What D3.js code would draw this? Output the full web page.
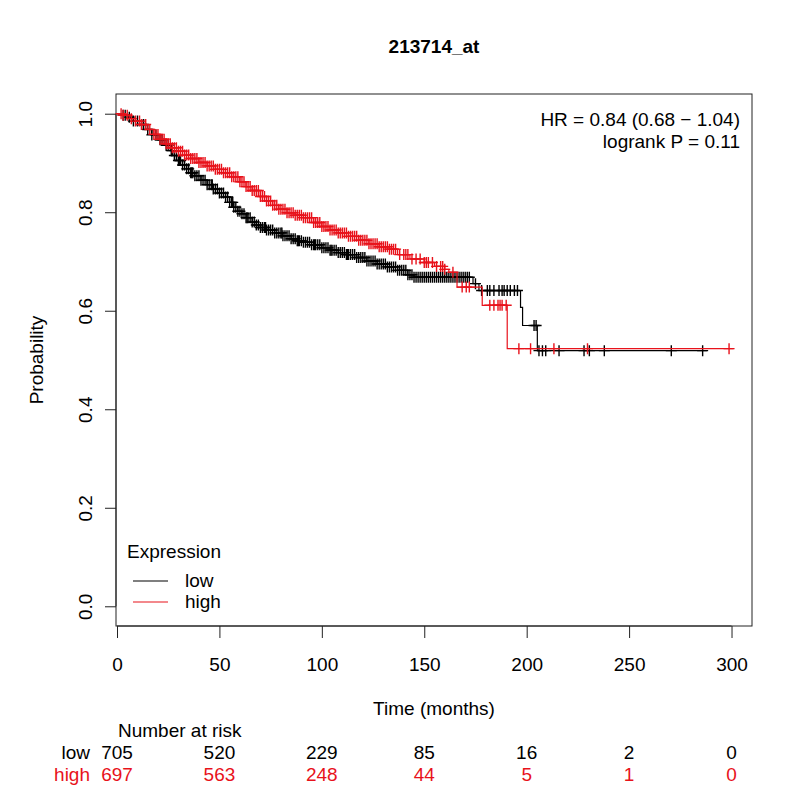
<!DOCTYPE html>
<html>
<head>
<meta charset="utf-8">
<script src="https://cdn.jsdelivr.net/npm/d3@7"></script>
<style>
  body { margin: 0; background: #fff; }
  text { font-family: "Liberation Sans", Arial, sans-serif; }
</style>
</head>
<body>
<div id="chart"></div>
<script>
// Kaplan-Meier steps: [time (months), survival]
const lowSteps = [
  [0, 1.0], [2, 0.997], [5, 0.993], [8, 0.985], [11, 0.978], [14, 0.968], [17, 0.957],
  [20, 0.947], [23, 0.936], [26, 0.925], [28, 0.915], [30, 0.905], [32, 0.896], [34, 0.888],
  [36, 0.880], [38, 0.874], [41, 0.865], [44, 0.856], [47, 0.847], [50, 0.839], [53, 0.831],
  [55, 0.820], [57, 0.810], [59, 0.802], [61, 0.797], [63, 0.789], [66, 0.780], [68, 0.774],
  [70, 0.769], [73, 0.764], [77, 0.758], [81, 0.752], [85, 0.746], [88, 0.742], [91, 0.739],
  [95, 0.734], [100, 0.728], [104, 0.723], [108, 0.718], [112, 0.714], [117, 0.708],
  [122, 0.701], [127, 0.695], [132, 0.689], [137, 0.682], [142, 0.673], [145, 0.668],
  [173.8, 0.655], [176.7, 0.641], [197, 0.607], [198, 0.570], [205.2, 0.519]
];
const lowEnd = 288;
const lowCensor = [
  3, 4, 6, 8, 10, 12, 13, 15, 17, 19, 21, 22, 24, 25, 26.5, 27, 28, 29, 30, 30.5, 31, 32,
  33, 34, 35, 36, 36.5, 37, 38, 39, 40, 41, 42, 43, 44, 45, 46, 46.5, 47, 48, 49, 50, 51,
  52, 53, 54, 55, 56, 56.5, 57, 58, 59, 60, 61, 62, 63, 63.5, 64, 65, 66, 67, 68, 69, 70,
  71, 72, 72.5, 73, 74, 75, 76, 77, 78, 79, 80, 80.5, 81, 82, 83, 84, 85, 86, 87, 88, 88.5,
  89, 90, 91, 92, 93, 94, 95, 96, 96.5, 97, 98, 99, 100, 101, 102, 103, 104, 104.5, 105,
  106, 107, 108, 109, 110, 111, 112, 112.5, 113, 114, 115, 116, 117, 118, 119, 120, 121,
  122, 123, 124, 125, 126, 127, 128, 129, 130, 131, 132, 133, 134, 135, 136, 137, 138,
  139, 140, 141, 142, 143, 144, 145, 146, 147, 148, 149, 150, 151, 152, 153, 154, 155,
  156, 157, 158, 159, 160, 161, 162, 163, 164, 165, 166, 167, 168, 169, 170, 171, 172,
  175, 178, 180.8, 182, 184, 186.5, 188, 189, 190.5, 192, 194, 195.5, 203.6, 204.6, 206,
  207.7, 209.3, 215.8, 228, 230.6, 237.9, 270.6, 285.9
];

const highSteps = [
  [0, 1.0], [3, 0.997], [6, 0.990], [9, 0.985], [12, 0.978], [15, 0.968], [18, 0.958],
  [21, 0.948], [24, 0.939], [27, 0.931], [30, 0.924], [33, 0.916], [36, 0.909], [40, 0.901],
  [44, 0.894], [48, 0.887], [52, 0.880], [56, 0.872], [60, 0.862], [63, 0.852], [66, 0.844],
  [70, 0.832], [73, 0.823], [76, 0.814], [79, 0.806], [83, 0.799], [87, 0.794], [91, 0.789],
  [96, 0.779], [100, 0.771], [104, 0.764], [108, 0.758], [113, 0.751], [118, 0.743],
  [123, 0.736], [128, 0.730], [133, 0.725], [137, 0.714], [143, 0.705], [150, 0.698],
  [155, 0.690], [160, 0.684], [162, 0.678], [166, 0.648], [178.3, 0.611], [190.5, 0.523]
];
const highEnd = 301;
const highCensor = [
  2, 3, 5, 7, 9, 11, 12, 14, 16, 18, 19, 20, 21, 22, 23, 24, 25, 26, 27, 28, 29, 30, 31,
  32, 33, 34, 35, 36, 37, 38, 39, 40, 41, 42, 43, 44, 45, 46, 47, 48, 49, 50, 51, 52, 53,
  54, 55, 56, 57, 58, 59, 60, 61, 62, 63, 64, 65, 66, 67, 68, 69, 70, 71, 72, 73, 74, 75,
  76, 77, 78, 79, 80, 81, 82, 83, 84, 85, 86, 87, 88, 89, 90, 91, 92, 93, 94, 95, 96, 97,
  98, 99, 100, 101, 102, 103, 104, 105, 106, 107, 108, 109, 110, 111, 112, 113, 114, 115,
  116, 117, 118, 119, 120, 121, 122, 123, 124, 125, 126, 127, 128, 129, 130, 131, 132,
  133, 134, 135, 136, 138, 140, 141, 142, 144, 146, 148, 150, 151, 152, 154, 156, 158,
  159, 160, 164, 168.5, 170.5, 172, 182, 184, 186, 187, 188, 190, 196.2, 201.9, 213.3,
  229.7, 298.8
];

const xTicks = [0, 50, 100, 150, 200, 250, 300];
const yTicks = [0.0, 0.2, 0.4, 0.6, 0.8, 1.0];
const riskLow = [705, 520, 229, 85, 16, 2, 0];
const riskHigh = [697, 563, 248, 44, 5, 1, 0];

const W = 800, H = 800;
const box = {left: 116, right: 752, top: 94, bottom: 626};
const fs = 19;

const x = d3.scaleLinear().domain([0, 310]).range([117, 752]);
const y = d3.scaleLinear().domain([-0.04, 1.04]).range([box.bottom, box.top]);

const svg = d3.select("#chart").append("svg")
    .attr("width", W).attr("height", H);

// Title
svg.append("text")
    .attr("x", (box.left + box.right) / 2).attr("y", 53)
    .attr("text-anchor", "middle")
    .style("font-size", "19px").style("font-weight", "bold")
    .text("213714_at");

// Plot box
svg.append("rect")
    .attr("x", box.left).attr("y", box.top)
    .attr("width", box.right - box.left).attr("height", box.bottom - box.top)
    .attr("fill", "none").attr("stroke", "#222").attr("stroke-width", 1);

// X axis
const xAxis = svg.append("g")
    .attr("transform", "translate(0," + box.bottom + ")")
    .call(d3.axisBottom(x).tickValues(xTicks).tickSize(12).tickPadding(20).tickSizeOuter(0));
xAxis.select(".domain").attr("d", "M" + x(0) + ",0H" + x(300)).attr("stroke", "#222");
xAxis.selectAll(".tick line").attr("stroke", "#222");
xAxis.selectAll(".tick text").style("font-size", fs + "px").attr("fill", "#000")
    .style("font-family", "Liberation Sans, Arial, sans-serif");

// Y axis, labels rotated like base R
const yAxis = svg.append("g")
    .attr("transform", "translate(" + box.left + ",0)")
    .call(d3.axisLeft(y).tickValues(yTicks).tickSize(11).tickFormat(d3.format(".1f")).tickSizeOuter(0));
yAxis.select(".domain").attr("d", "M0," + y(0) + "V" + y(1)).attr("stroke", "#222");
yAxis.selectAll(".tick line").attr("stroke", "#222");
yAxis.selectAll(".tick text")
    .attr("x", null).attr("dy", null)
    .attr("transform", "translate(-24,0) rotate(-90)")
    .attr("text-anchor", "middle")
    .style("font-size", fs + "px").attr("fill", "#000")
    .style("font-family", "Liberation Sans, Arial, sans-serif");

// Axis titles
svg.append("text")
    .attr("transform", "translate(43," + ((box.top + box.bottom) / 2) + ") rotate(-90)")
    .attr("text-anchor", "middle")
    .style("font-size", fs + "px")
    .text("Probability");

svg.append("text")
    .attr("x", (box.left + box.right) / 2).attr("y", 715)
    .attr("text-anchor", "middle")
    .style("font-size", fs + "px")
    .text("Time (months)");

// Survival curves
const stepLine = d3.line()
    .x(d => x(d[0]))
    .y(d => y(d[1]))
    .curve(d3.curveStepAfter);

const survAt = (steps, t) => {
  let s = steps[0][1];
  steps.forEach(d => { if (d[0] <= t) s = d[1]; });
  return s;
};

const groups = [
  {steps: lowSteps, end: lowEnd, censor: lowCensor, color: "#000000"},
  {steps: highSteps, end: highEnd, censor: highCensor, color: "#e8121b"}
];

groups.forEach(g => {
  const pts = g.steps.concat([[g.end, g.steps[g.steps.length - 1][1]]]);
  svg.append("path")
      .datum(pts)
      .attr("d", stepLine)
      .attr("fill", "none")
      .attr("stroke", g.color)
      .attr("stroke-width", 1.2);

  const c = 5.5;
  svg.append("g").selectAll("path")
      .data(g.censor)
      .join("path")
      .attr("d", t => {
        const cx = x(t), cy = y(survAt(g.steps, t));
        return "M" + (cx - c) + "," + cy + "H" + (cx + c) + "M" + cx + "," + (cy - c) + "V" + (cy + c);
      })
      .attr("stroke", g.color)
      .attr("stroke-width", 1.4)
      .attr("fill", "none");
});

// HR annotation
svg.append("text")
    .attr("x", 740).attr("y", 126)
    .attr("text-anchor", "end")
    .style("font-size", fs + "px")
    .text("HR = 0.84 (0.68 \u2212 1.04)");
svg.append("text")
    .attr("x", 740).attr("y", 148)
    .attr("text-anchor", "end")
    .style("font-size", fs + "px")
    .text("logrank P = 0.11");

// Legend
svg.append("text")
    .attr("x", 127).attr("y", 558)
    .style("font-size", fs + "px")
    .text("Expression");
[{label: "low", color: "#000000", yy: 581}, {label: "high", color: "#e8121b", yy: 602}].forEach(l => {
  svg.append("line")
      .attr("x1", 133).attr("x2", 168).attr("y1", l.yy).attr("y2", l.yy)
      .attr("stroke", l.color).attr("stroke-width", 1.1);
  svg.append("text")
      .attr("x", 185).attr("y", l.yy + 6)
      .style("font-size", fs + "px")
      .text(l.label);
});

// Number at risk table
svg.append("text")
    .attr("x", 118).attr("y", 737)
    .style("font-size", fs + "px")
    .text("Number at risk");

[{label: "low", vals: riskLow, color: "#000000", yy: 759},
 {label: "high", vals: riskHigh, color: "#e8121b", yy: 781}].forEach(r => {
  svg.append("text")
      .attr("x", 90).attr("y", r.yy)
      .attr("text-anchor", "end")
      .attr("fill", r.color)
      .style("font-size", fs + "px")
      .text(r.label);
  svg.append("g").selectAll("text")
      .data(r.vals)
      .join("text")
      .attr("x", (d, i) => x(xTicks[i]))
      .attr("y", r.yy)
      .attr("text-anchor", "middle")
      .attr("fill", r.color)
      .style("font-size", fs + "px")
      .text(d => d);
});
</script>
</body>
</html>
